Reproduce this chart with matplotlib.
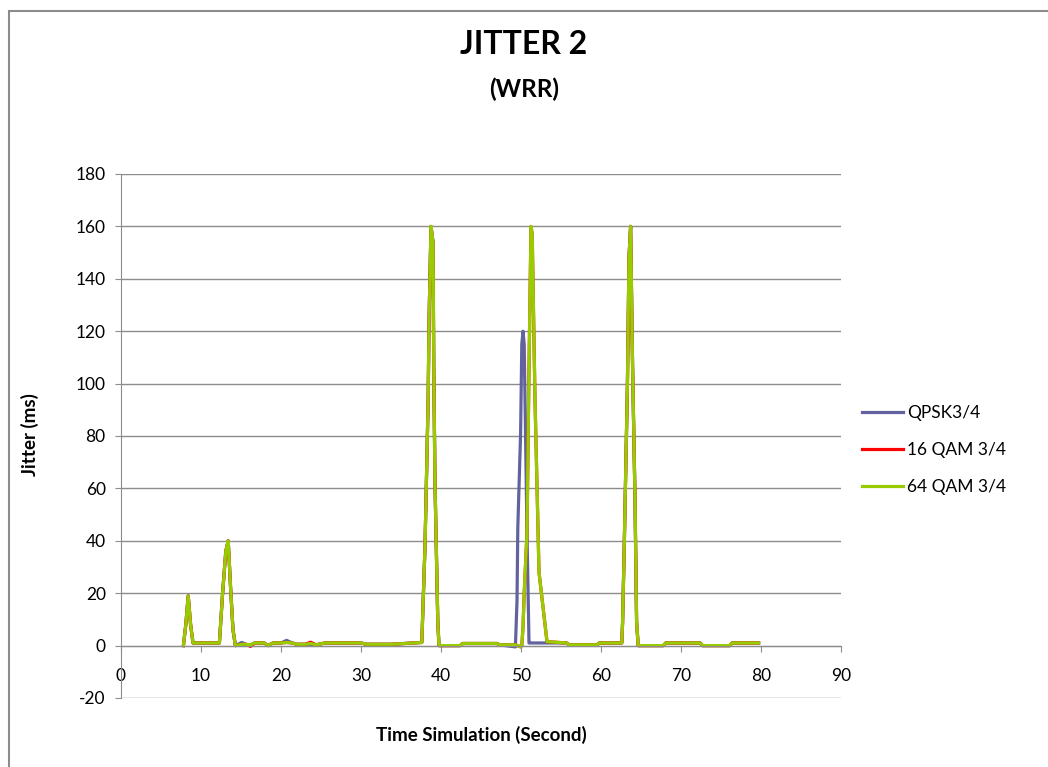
import matplotlib
matplotlib.use('Agg')
import matplotlib.pyplot as plt
from matplotlib.patches import Rectangle

plt.rcParams['font.family'] = ['Lato', 'DejaVu Sans']
plt.rcParams['axes.unicode_minus'] = False

# time (s) sampled along the traces
t = [7.8, 8.1, 8.4, 8.7, 9.0, 12.3, 12.7, 13.1, 13.4, 13.7, 14.0, 14.3,
     15.1, 15.6, 16.2, 16.7, 17.9, 18.4, 19.0, 20.0, 20.7, 21.4, 22.0, 23.0,
     23.7, 24.4, 25.5, 30.0, 30.7, 33.8, 37.6, 37.75, 38.0, 38.2, 38.4, 38.5,
     38.75, 39.0, 39.1, 39.25, 39.6, 39.75, 42.4, 42.7, 47.0, 47.3, 49.3, 49.5,
     49.6, 49.95, 50.1, 50.25, 50.4, 50.75, 51.0, 51.25, 51.4, 51.75, 52.25, 53.25,
     55.7, 56.0, 59.5, 59.8, 62.6, 62.7, 62.9, 63.1, 63.3, 63.5, 63.7, 63.95,
     64.25, 64.45, 64.65, 67.8, 68.1, 72.4, 72.7, 76.1, 76.4, 79.7]

qpsk = [0, 8, 19, 8, 1, 1, 20, 36, 40, 22, 6, 0,
        1.2, 0.5, 0.3, 1, 1, 0, 1, 1, 2, 1, 0.5, 0.5,
        0.5, 0.3, 1, 1, 0.5, 0.5, 1.2, 15, 38, 66, 95, 123,
        160, 154, 104, 62, 9, 0, 0, 0.8, 0.8, 0.3, -0.5, 17,
        45, 81, 115, 120, 115, 43, 1, 1, 1, 1, 1, 1,
        1, 0.3, 0.3, 1, 1, 9, 37, 68, 99, 148, 160, 106,
        56, 9, 0, 0, 1, 1, 0, 0, 1, 1]

qam16 = [0, 8, 19, 8, 1, 1, 20, 36, 40, 22, 6, 0,
         0.5, 0.5, -0.3, 1, 1, 0, 1, 1, 1.2, 1, 0.5, 0.5,
         1.3, 0.3, 1, 1, 0.5, 0.5, 1.2, 15, 38, 66, 95, 123,
         160, 154, 104, 62, 9, 0, 0, 0.8, 0.8, 0.3, 0.3, 0,
         0, -0.5, 0, 7, 20, 43, 106, 160, 157, 94, 28, 1.5,
         1, 0.3, 0.3, 1, 1, 9, 37, 68, 99, 148, 160, 106,
         56, 9, 0, 0, 1, 1, 0, 0, 1, 1]

qam64 = [0, 8, 19, 8, 1, 1, 20, 36, 40, 22, 6, 0,
         0.5, 0.5, 0.3, 1, 1, 0, 1, 1, 1.2, 1, 0.5, 0.5,
         0.8, 0.3, 1, 1, 0.5, 0.5, 1.2, 15, 38, 66, 95, 123,
         160, 154, 104, 62, 9, 0, 0, 0.8, 0.8, 0.3, 0.3, 0,
         0, -0.5, 0, 7, 20, 43, 106, 160, 157, 94, 28, 1.5,
         1, 0.3, 0.3, 1, 1, 9, 37, 68, 99, 148, 160, 106,
         56, 9, 0, 0, 1, 1, 0, 0, 1, 1]

labels = ['QPSK3/4', '16 QAM 3/4', '64 QAM 3/4']
colors = ['#62629E', '#FF0000', '#99CC00']

fig = plt.figure(figsize=(10.48, 7.67), dpi=100)
ax = fig.add_axes([121 / 1048, 1 - 698 / 767, 720 / 1048, 524 / 767])

# outer chart border
fig.patches.append(Rectangle((9 / 1048, -0.1), 1.2, 1 - 11 / 767 + 0.1,
                             transform=fig.transFigure, fill=False,
                             edgecolor='#8C8C8C', linewidth=1.5))

for y, lab, c in zip([qpsk, qam16, qam64], labels, colors):
    ax.plot(t, y, color=c, linewidth=2.3, label=lab)

ax.set_xlim(0, 90)
ax.set_ylim(-20, 180)
ax.set_xticks(range(0, 91, 10))
ax.set_yticks(range(-20, 181, 20))
ax.yaxis.grid(True, color='#8C8C8C', linewidth=1)
ax.set_axisbelow(True)

for s in ['top', 'right']:
    ax.spines[s].set_visible(False)
ax.spines['bottom'].set_position(('data', 0))
ax.spines['bottom'].set_color('#8C8C8C')
ax.spines['left'].set_color('#8C8C8C')
ax.tick_params(axis='x', direction='out', length=4, color='#8C8C8C', pad=12, labelsize=12.5)
ax.tick_params(axis='y', direction='out', length=4, color='#8C8C8C', pad=7, labelsize=12.5)

fig.text(0.5, 1 - 45 / 767, 'JITTER 2', ha='center', va='center', fontsize=23, fontweight='bold')
fig.text(0.5, 1 - 89 / 767, '(WRR)', ha='center', va='center', fontsize=17.5, fontweight='bold')
fig.text(30 / 1048, 1 - 435 / 767, 'Jitter (ms)', rotation=90, ha='center', va='center',
         fontsize=13.5, fontweight='bold')
fig.text(481 / 1048, 1 - 735 / 767, 'Time Simulation (Second)', ha='center', va='center',
         fontsize=13.5, fontweight='bold')

ax.legend(loc='center left', bbox_to_anchor=(846 / 1048, 1 - 450 / 767),
          bbox_transform=fig.transFigure, frameon=False, fontsize=12.5,
          handlelength=2.4, handletextpad=0.2, labelspacing=1.2)

fig.savefig('out.png', dpi=100)
